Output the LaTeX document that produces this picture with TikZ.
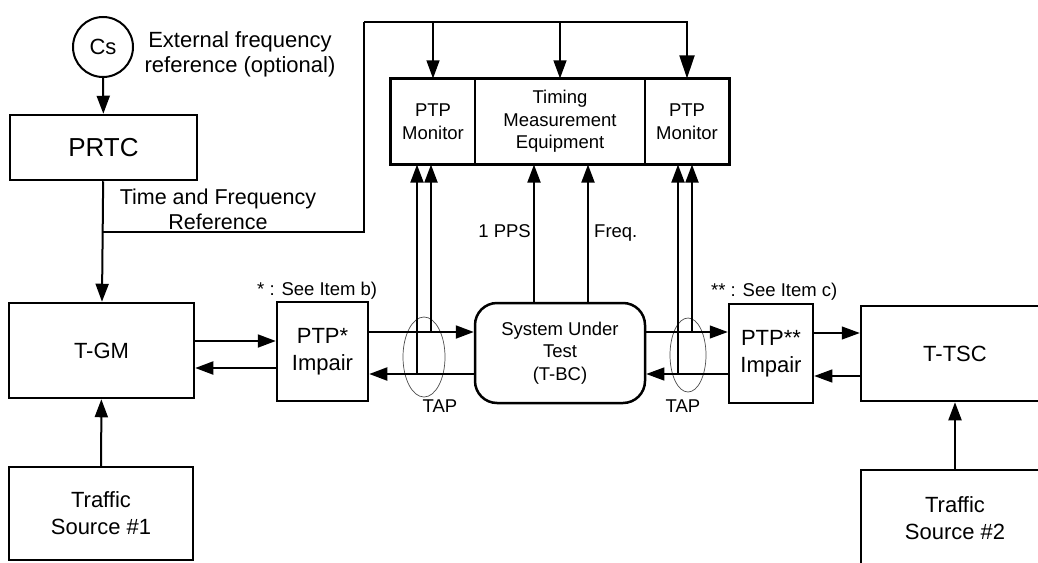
\documentclass[tikz,border=0pt]{standalone}
\usepackage{fontspec}
\setmainfont{Liberation Sans}
\usetikzlibrary{arrows.meta,shapes.geometric}

\begin{document}
\begin{tikzpicture}[x=1pt, y=-1pt, >={Triangle[length=18pt,width=13pt]},
		every node/.style={inner sep=0pt, align=center, font=\fontsize{22}{27}\selectfont},
		box/.style={draw, rectangle, line width=2.5pt},
		cell/.style={draw, rectangle, line width=1.2pt, font=\fontsize{18.5}{22.5}\selectfont},
		small/.style={font=\fontsize{18.5}{22.5}\selectfont},
		link/.style={->, line width=2pt},
		thinlink/.style={->, line width=1.2pt},
		tap/.style={draw, ellipse, gray!60!black, line width=0.7pt}]
		\useasboundingbox (0,0) rectangle (1038,562);
		\clip (0,0) rectangle (1038,562);

		\node[draw, circle, line width=2pt, minimum size=60] (cs) at (103,47) {Cs};
		\node[font=\fontsize{22}{25}\selectfont] (extref) at (240,54) {External frequency\\reference (optional)};
		\node[box, minimum width=187, minimum height=65, font=\fontsize{26}{30}\selectfont] (prtc) at (103.5,147.5) {PRTC};
		\node[font=\fontsize{21.5}{25}\selectfont] (tfref) at (218,209.5) {Time and Frequency\\Reference};

		\node[cell, minimum width=84, minimum height=85] (mon1) at (433,121.5) {PTP\\Monitor};
		\node[cell, minimum width=170, minimum height=85] (tme) at (560,121.5) {Timing\\Measurement\\Equipment};
		\node[cell, minimum width=84, minimum height=85] (mon2) at (687,121.5) {PTP\\Monitor};
		\draw[line width=2.5pt] (mon1.north west) rectangle (mon2.south east);

		\node[box, minimum width=185, minimum height=95] (tgm) at (101.5,350.5) {T-GM};
		\node[box, minimum width=184, minimum height=93] (src1) at (101,513.5) {Traffic\\Source \#1};
		\node[box, minimum width=91, minimum height=99] (imp1) at (322.5,351.5) {PTP*\\Impair};
		\node[box, small, rounded corners=22pt, minimum width=170, minimum height=100] (sut) at (560,353) {System Under\\Test\\(T-BC)};
		\node[box, minimum width=84, minimum height=99] (imp2) at (771,353.5) {PTP**\\Impair};
		\node[box, minimum width=188, minimum height=95] (ttsc) at (955,353.5) {T-TSC};
		\node[box, minimum width=188, minimum height=96] (src2) at (955,518) {Traffic\\Source \#2};

		\node[small, anchor=base west] (noteb) at (257,295) {* : See Item b)};
		\node[small, anchor=base west] (notec) at (711,296) {** : See Item c)};
		\node[small, anchor=base east] (pps) at (531,237) {1 PPS};
		\node[small, anchor=base west] (freq) at (594,237) {Freq.};

		\node[tap, minimum width=42, minimum height=80] (tap1) at (424,357) {};
		\node[tap, minimum width=36, minimum height=74] (tap2) at (688,355) {};
		\node[small, anchor=base] (taplbl1) at (440,412) {TAP};
		\node[small, anchor=base] (taplbl2) at (683,412) {TAP};

		\coordinate (split) at (103,232);
		\coordinate (bendlow) at (364,232);
		\coordinate (bendhigh) at (364,22);
		\coordinate (tapdown1) at (417,374);
		\coordinate (tapup1) at (431,332);
		\coordinate (tapdown2) at (678,374);
		\coordinate (tapup2) at (692,332);

		\draw[link] (cs) -- (prtc);
		\draw[link] (prtc) -- (tgm);
		\draw[line width=2pt] (split) -- (bendlow) -- (bendhigh);
		\draw[->, >={Triangle[length=23pt,width=15pt]}, line width=2pt] (bendhigh) -| (mon2.north);
		\draw[thinlink] (mon1.north |- bendhigh) -- (mon1.north);
		\draw[thinlink] (tme.north |- bendhigh) -- (tme.north);

		\draw[link] (src1) -- (tgm);
		\draw[link] (src2) -- (ttsc);

		\draw[link] (tgm.east |- 0,341) -- (imp1.west |- 0,341);
		\draw[link] (imp1.west |- 0,368) -- (tgm.east |- 0,368);
		\draw[link] (imp1.east |- 0,332) -- (sut.west |- 0,332);
		\draw[link] (sut.west |- 0,374) -- (imp1.east |- 0,374);
		\draw[link] (tapdown1) -- (tapdown1 |- mon1.south);
		\draw[link] (tapup1) -- (tapup1 |- mon1.south);

		\draw[link] ([xshift=-26pt]sut.north) -- ([xshift=-26pt]tme.south);
		\draw[link] ([xshift=28pt]sut.north) -- ([xshift=28pt]tme.south);

		\draw[thinlink] (sut.east |- 0,332) -- (imp2.west |- 0,332);
		\draw[thinlink] (imp2.west |- 0,374) -- (sut.east |- 0,374);
		\draw[link] (tapdown2) -- (tapdown2 |- mon2.south);
		\draw[link] (tapup2) -- (tapup2 |- mon2.south);

		\draw[thinlink] (imp2.east |- 0,333) -- (ttsc.west |- 0,333);
		\draw[thinlink] (ttsc.west |- 0,376) -- (imp2.east |- 0,376);
	\end{tikzpicture}
\end{document}
